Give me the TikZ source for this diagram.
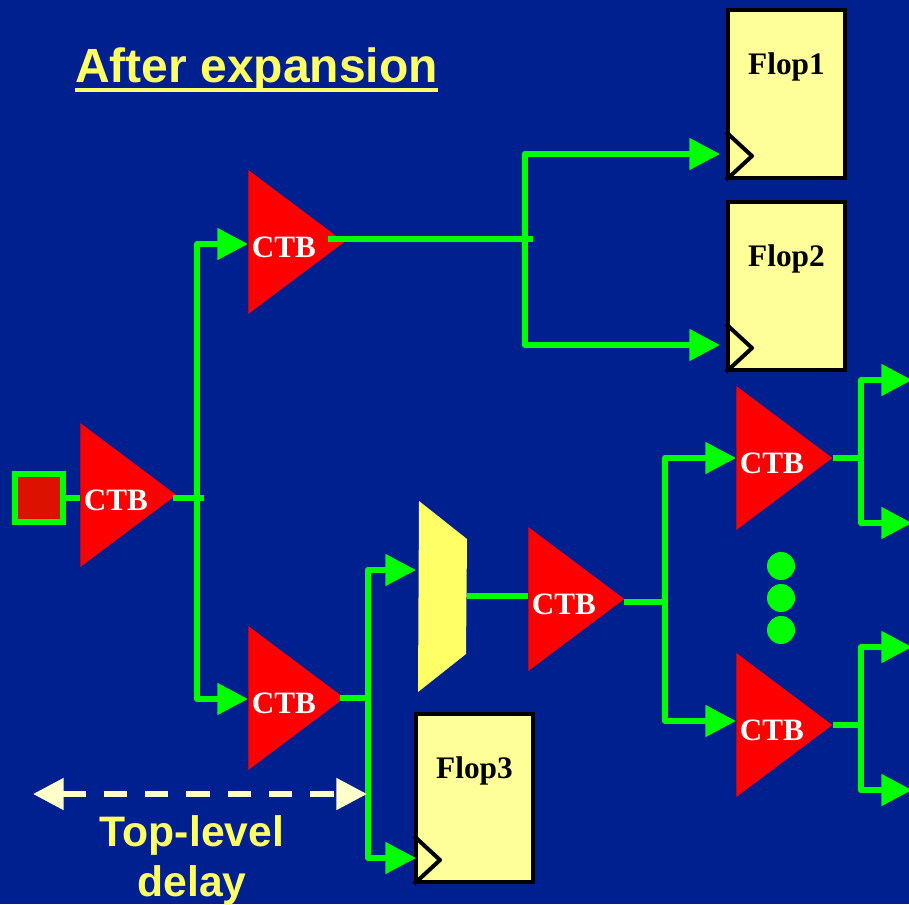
\documentclass[tikz,border=0pt]{standalone}
\usepackage{fontspec}
\setmainfont{Liberation Serif}
\newfontfamily\headfont{Liberation Sans}
\usetikzlibrary{arrows.meta,shapes.geometric}
\definecolor{slidebg}{HTML}{002090}
\definecolor{wiregreen}{HTML}{00FF00}
\definecolor{flopfill}{HTML}{FFFF99}
\definecolor{muxfill}{HTML}{FFFF66}
\definecolor{padred}{HTML}{DD1100}
\definecolor{delaycream}{HTML}{FFFFCC}
\newcommand{\ctbtext}{\raisebox{-11.45pt}[0pt][0pt]{\kern-10pt CTB}}
\tikzset{
    ctb/.style={isosceles triangle, isosceles triangle stretches, fill=red, inner sep=0pt, minimum width=108pt, minimum height=72pt, anchor=lower side, text=white, font=\fontsize{23.3}{23.3}\selectfont\bfseries},
    flop/.style={draw=black, line width=3pt, fill=flopfill, minimum width=87.75pt, minimum height=126pt, inner sep=0pt},
    floplabel/.style={font=\fontsize{23.5}{23.5}\selectfont\bfseries, text=black, yshift=20.25pt, inner sep=0pt},
    notch/.style={draw=black, line width=3pt, line join=round},
    wire/.style={draw=wiregreen, line width=4.5pt, line join=round},
    feed/.style={wire, -{Triangle[length=23pt, width=23pt]}},
    dot/.style={circle, fill=wiregreen, minimum size=21pt, inner sep=0pt},
    heading/.style={font=\headfont\bfseries, text=muxfill, inner sep=0pt}
}
\begin{document}
\begin{tikzpicture}[x=0.75pt, y=-0.75pt]
    \useasboundingbox (0,0) rectangle (909,904);
    \fill[slidebg] (0,0) rectangle (909,904);

    \node[heading, anchor=base west, font=\headfont\bfseries\fontsize{36}{36}\selectfont] (T) at (75,82) {After expansion};
    \draw[muxfill, line width=3pt] ([yshift=-6pt]T.base west) -- ([yshift=-6pt]T.base east);

    % buffers
    \node[ctb] (B1) at (80,495) {\ctbtext};
    \node[ctb] (B2) at (248,242) {\ctbtext};
    \node[ctb] (B3) at (248,698) {\ctbtext};
    \node[ctb] (B4) at (528,599) {\ctbtext};
    \node[ctb] (B5) at (736,458) {\ctbtext};
    \node[ctb] (B6) at (736,725) {\ctbtext};

    % flops
    \node[flop, label={[floplabel]center:Flop1}] (F1) at (786.5,94) {};
    \node[flop, label={[floplabel]center:Flop2}, below of=F1, node distance=144pt] (F2) {};
    \node[flop, label={[floplabel]center:Flop3}] (F3) at (474.5,798) {};
    \draw[notch] ([shift={(0,-48)}]F1.south west) -- ([shift={(26,-24)}]F1.south west) -- (F1.south west);
    \draw[notch] ([shift={(0,-48)}]F2.south west) -- ([shift={(26,-24)}]F2.south west) -- (F2.south west);
    \draw[notch] ([shift={(0,-48)}]F3.south west) -- ([shift={(26,-24)}]F3.south west) -- (F3.south west);

    % input pad and mux
    \node[draw=wiregreen, fill=padred, line width=4.5pt, minimum size=36pt, inner sep=0pt] (P) at (39,498) {};
    \fill[muxfill] (419,501) -- (467,539) -- (466,654) -- (418,692) -- cycle;
    \coordinate (M) at (467,596);
    \coordinate (MI) at (416,570);

    % junctions and pins
    \coordinate (J1) at (197,498);
    \coordinate (J1E) at (204,498);
    \coordinate (B1O) at (173,498);
    \coordinate (B2I) at (248,244);
    \coordinate (B3I) at (248,699);
    \coordinate (J2) at (525,239);
    \coordinate (J2E) at (533,239);
    \coordinate (B2O) at (328,239);
    \coordinate (F1I) at (720,154);
    \coordinate (F2I) at (720,345);
    \coordinate (B3O) at (340,698);
    \coordinate (J3) at (368,698);
    \coordinate (F3I) at (416,858);
    \coordinate (B4I) at (528,596);
    \coordinate (B4O) at (624,602);
    \coordinate (J4) at (665,602);
    \coordinate (B5I) at (736,458);
    \coordinate (B6I) at (736,721);
    \coordinate (J5) at (861,458);
    \coordinate (J6) at (861,725);
    \coordinate (O1) at (912,380);
    \coordinate (O2) at (912,523);
    \coordinate (O3) at (912,647);
    \coordinate (O4) at (912,790);
    \coordinate (DL) at (33,794);
    \coordinate (DR) at (367,794);

    % clock wires
    \draw[wire] (P.east) -- (B1.lower side |- P.east);
    \draw[wire] (B1O) -- (J1E);
    \draw[feed] (J1) |- (B2I);
    \draw[feed] (J1) |- (B3I);
    \draw[wire] (B2O) -- (J2E);
    \draw[feed] (J2) |- (F1I);
    \draw[feed] (J2) |- (F2I);
    \draw[wire] (B3O) -- (J3);
    \draw[feed] (J3) |- (MI);
    \draw[feed] (J3) |- (F3I);
    \draw[wire] (M) -- (B4I);
    \draw[wire] (B4O) -- (J4);
    \draw[feed] (J4) |- (B5I);
    \draw[feed] (J4) |- (B6I);
    \draw[wire] (B5.apex) -- (J5);
    \draw[feed] (J5) |- (O1);
    \draw[feed] (J5) |- (O2);
    \draw[wire] (B6.apex) -- (J6);
    \draw[feed] (J6) |- (O3);
    \draw[feed] (J6) |- (O4);

    % more buffers
    \node[dot] (D1) at (781,566) {};
    \node[dot, below of=D1, node distance=24pt] (D2) {};
    \node[dot, below of=D2, node distance=24pt] (D3) {};

    % delay
    \draw[delaycream, line width=4.5pt, dash pattern=on 17.5pt off 13.5pt, {Triangle[length=23pt, width=23pt]}-{Triangle[length=23pt, width=23pt]}] (DL) -- (DR);
    \node[heading, align=center, font=\headfont\bfseries\fontsize{32}{37.5}\selectfont] (L) at (192,860) {Top-level\\delay};
\end{tikzpicture}
\end{document}
